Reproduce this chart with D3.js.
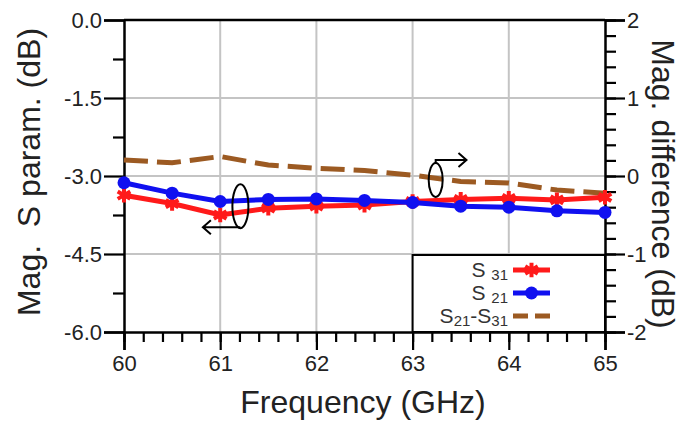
<!DOCTYPE html>
<html>
<head>
<meta charset="utf-8">
<script src="https://cdn.jsdelivr.net/npm/d3@7"></script>
<style>
  html, body { margin: 0; padding: 0; background: #fff; }
  svg { display: block; font-family: "Liberation Sans", Arial, sans-serif; }
  text { white-space: pre; }
</style>
</head>
<body>
<svg id="chart" width="686" height="423"></svg>
<script>
// ---- data ----
const freq = [60, 60.5, 61, 61.5, 62, 62.5, 63, 63.5, 64, 64.5, 65];
const s31  = [-3.37, -3.53, -3.75, -3.62, -3.58, -3.56, -3.49, -3.45, -3.43, -3.46, -3.41];
const s21  = [-3.13, -3.33, -3.49, -3.45, -3.44, -3.47, -3.51, -3.58, -3.60, -3.67, -3.70];
const diff = [0.205, 0.17, 0.25, 0.14, 0.10, 0.07, 0.01, -0.07, -0.09, -0.18, -0.22];
const xTicks = [60, 61, 62, 63, 64, 65];
const yLeftTicks = [0, -1.5, -3, -4.5, -6];
const yRightTicks = [2, 1, 0, -1, -2];

// ---- layout ----
const svg = d3.select("#chart");
const L = 124, T = 20, R = 605, B = 332;
const x = d3.scaleLinear().domain([60, 65]).range([L, R]);
const yL = d3.scaleLinear().domain([-6, 0]).range([B, T]);
const yR = d3.scaleLinear().domain([-2, 2]).range([B, T]);
const txt = "#222";
const hy = f => v => f(v).replace("\u2212", "-");

// grid
const grid = svg.append("g").attr("stroke", "#c4c4c4").attr("stroke-width", 2);
xTicks.slice(1, -1).forEach(v => grid.append("line").attr("x1", x(v)).attr("x2", x(v)).attr("y1", T).attr("y2", B));
yLeftTicks.slice(1, -1).forEach(v => grid.append("line").attr("x1", L).attr("x2", R).attr("y1", yL(v)).attr("y2", yL(v)));

// legend box background (drawn before lines so gridline hidden)
const lgX = x(63), lgY = yL(-4.5) + 1;
svg.append("rect").attr("x", lgX).attr("y", lgY).attr("width", R - lgX).attr("height", B - lgY)
  .attr("fill", "#fff").attr("stroke", "#000").attr("stroke-width", 2);

// axes
const axB = d3.axisBottom(x).tickValues(xTicks).tickFormat(d3.format("d")).tickSize(18).tickPadding(5);
const gB = svg.append("g").attr("transform", `translate(0,${B})`).call(axB);
const axL = d3.axisLeft(yL).tickValues(yLeftTicks).tickFormat(hy(d3.format(".1f"))).tickSize(20).tickPadding(2);
const gL = svg.append("g").attr("transform", `translate(${L},0)`).call(axL);
const axR = d3.axisRight(yR).tickValues(yRightTicks).tickFormat(hy(d3.format("d"))).tickSize(20).tickPadding(2);
const gR = svg.append("g").attr("transform", `translate(${R},0)`).call(axR);

// minor ticks
const minorB = d3.axisBottom(x).tickValues(d3.range(0, 26).map(i => 60 + i * 0.2)).tickFormat("").tickSize(10);
svg.append("g").attr("transform", `translate(0,${B})`).call(minorB).select(".domain").remove();
const minorL = d3.axisLeft(yL).tickValues([-0.75, -2.25, -3.75, -5.25]).tickFormat("").tickSize(11);
svg.append("g").attr("transform", `translate(${L},0)`).call(minorL).select(".domain").remove();
const minorR = d3.axisRight(yR).tickValues(d3.range(0, 21).map(i => -2 + i * 0.2)).tickFormat("").tickSize(11);
svg.append("g").attr("transform", `translate(${R},0)`).call(minorR).select(".domain").remove();

svg.selectAll(".tick line").attr("stroke", "#000").attr("stroke-width", 2.2);
svg.selectAll(".domain").attr("stroke", "#000").attr("stroke-width", 2.5);
svg.selectAll(".tick text").attr("fill", txt).attr("font-size", 22).attr("font-family", "Liberation Sans, Arial, sans-serif");
gL.selectAll(".tick text").attr("dy", "0.35em");
gR.selectAll(".tick text").attr("dy", "0.35em");
// top frame
svg.append("line").attr("x1", L).attr("x2", R).attr("y1", T).attr("y2", T).attr("stroke", "#000").attr("stroke-width", 2.5);

// titles
svg.append("text").attr("transform", `translate(40,172) rotate(-90)`).attr("text-anchor", "middle")
  .attr("font-size", 32).attr("fill", txt).text("Mag.  S param. (dB)");
svg.append("text").attr("transform", `translate(652,184) rotate(90)`).attr("text-anchor", "middle")
  .attr("font-size", 32).attr("fill", txt).text("Mag. difference (dB)");
svg.append("text").attr("x", 363).attr("y", 413).attr("text-anchor", "middle")
  .attr("font-size", 32).attr("fill", txt).text("Frequency (GHz)");

// series
const colRed = "#ff1a1a", colBlue = "#1010f0", colBrown = "#9c5a22";
const lineL = d3.line().x((d, i) => x(freq[i])).y(d => yL(d));
const lineR = d3.line().x((d, i) => x(freq[i])).y(d => yR(d));

svg.append("path").datum(diff).attr("d", lineR).attr("fill", "none").attr("stroke", colBrown)
  .attr("stroke-width", 5).attr("stroke-dasharray", "24 9");
svg.append("path").datum(s31).attr("d", lineL).attr("fill", "none").attr("stroke", colRed).attr("stroke-width", 5);
const star = d3.symbol().type(d3.symbolAsterisk).size(150);
svg.append("g").selectAll("path").data(s31).join("path")
  .attr("transform", (d, i) => `translate(${x(freq[i])},${yL(d)})`)
  .attr("d", star).attr("fill", "none").attr("stroke", colRed).attr("stroke-width", 4);
svg.append("path").datum(s21).attr("d", lineL).attr("fill", "none").attr("stroke", colBlue).attr("stroke-width", 5);
svg.append("g").selectAll("circle").data(s21).join("circle")
  .attr("cx", (d, i) => x(freq[i])).attr("cy", d => yL(d)).attr("r", 6.5).attr("fill", colBlue);

// annotations
const ann = svg.append("g").attr("fill", "none").attr("stroke", "#000").attr("stroke-width", 2);
// left ellipse + arrow
const e1x = x(61.21), e1y = yL(-3.58);
ann.append("ellipse").attr("cx", e1x).attr("cy", e1y).attr("rx", 8).attr("ry", 22);
const a1y = e1y + 21, a1x = x(60.82);
ann.append("path").attr("d", `M${e1x},${a1y} H${a1x} M${a1x + 8},${a1y - 7} L${a1x},${a1y} L${a1x + 8},${a1y + 7}`);
// right ellipse + arrow
const e2x = x(63.24), e2y = yR(-0.05);
ann.append("ellipse").attr("cx", e2x).attr("cy", e2y).attr("rx", 7).attr("ry", 17);
const a2y = e2y - 20, a2x = x(63.56);
ann.append("path").attr("d", `M${e2x},${e2y - 16} V${a2y} H${a2x} M${a2x - 8},${a2y - 7} L${a2x},${a2y} L${a2x - 8},${a2y + 7}`);

// legend
const lg = svg.append("g");
const rows = [
  { main: "S", sub: "31", type: "s31", y: 270 },
  { main: "S", sub: "21", type: "s21", y: 293 },
  { type: "diff", y: 316 }
];
const sx0 = 513, sx1 = 550, tx = 508;
rows.forEach(r => {
  const t = lg.append("text").attr("x", tx).attr("y", r.y + 7).attr("text-anchor", "end").attr("fill", "#333").attr("font-size", 21);
  if (r.type === "diff") {
    t.append("tspan").text("S");
    t.append("tspan").attr("font-size", 15).attr("dy", 3).text("21");
    t.append("tspan").attr("dy", -3).text("-S");
    t.append("tspan").attr("font-size", 15).attr("dy", 3).text("31");
  } else {
    t.append("tspan").text(r.main + " ");
    t.append("tspan").attr("font-size", 15).attr("dy", 3).text(r.sub);
  }
  const mx = (sx0 + sx1) / 2;
  if (r.type === "s31") {
    lg.append("line").attr("x1", sx0).attr("x2", sx1).attr("y1", r.y).attr("y2", r.y).attr("stroke", colRed).attr("stroke-width", 5);
    lg.append("path").attr("transform", `translate(${mx},${r.y})`).attr("d", star).attr("fill", "none").attr("stroke", colRed).attr("stroke-width", 4);
  } else if (r.type === "s21") {
    lg.append("line").attr("x1", sx0).attr("x2", sx1).attr("y1", r.y).attr("y2", r.y).attr("stroke", colBlue).attr("stroke-width", 5);
    lg.append("circle").attr("cx", mx).attr("cy", r.y).attr("r", 6.5).attr("fill", colBlue);
  } else {
    lg.append("line").attr("x1", sx0).attr("x2", sx1).attr("y1", r.y).attr("y2", r.y).attr("stroke", colBrown)
      .attr("stroke-width", 5).attr("stroke-dasharray", "15 7");
  }
});
</script>
</body>
</html>
